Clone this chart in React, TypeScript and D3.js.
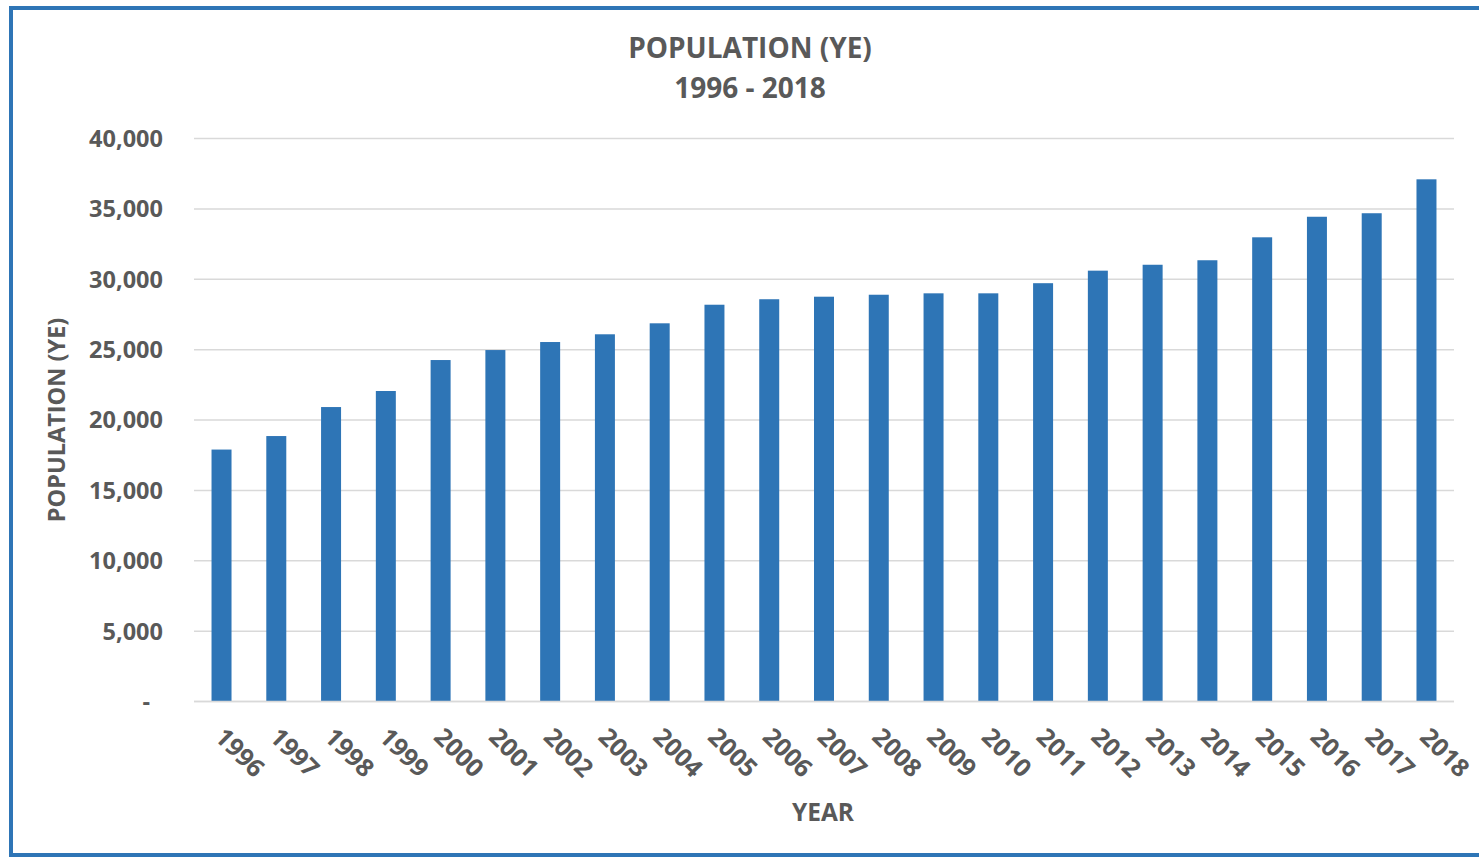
import React, { useEffect, useRef } from 'react';
import * as d3 from 'd3';

const years = [
  '1996', '1997', '1998', '1999', '2000', '2001', '2002', '2003', '2004', '2005', '2006', '2007',
  '2008', '2009', '2010', '2011', '2012', '2013', '2014', '2015', '2016', '2017', '2018',
];
const population = [
  17900, 18860, 20920, 22060, 24260, 24970, 25540, 26090, 26870, 28190, 28580, 28760,
  28900, 29000, 29000, 29720, 30610, 31030, 31350, 32980, 34440, 34690, 37100,
];
const yTicks = [0, 5000, 10000, 15000, 20000, 25000, 30000, 35000, 40000];
const titleLines = ['POPULATION (YE)', '1996 - 2018'];

const W = 1479;
const H = 857;
const FONT = '"Open Sans", sans-serif';
const GREY = '#595959';

const PopulationChart = () => {
  const ref = useRef<SVGSVGElement>(null);

  useEffect(() => {
    const svg = d3.select(ref.current);
    svg.selectAll('*').remove();

    const left = 194, right = 1454, top = 138.5, bottom = 701.5;

    const x = d3.scaleBand().domain(years).range([left, right]).paddingInner(0.635).paddingOuter(0.32);
    const y = d3.scaleLinear().domain([0, 40000]).range([bottom, top]);

    svg.append('rect')
      .attr('width', W).attr('height', H).attr('fill', '#fff');

    // outer frame
    svg.append('rect')
      .attr('x', 11).attr('y', 8)
      .attr('width', W + 20).attr('height', 847)
      .attr('fill', 'none')
      .attr('stroke', '#2E75B6')
      .attr('stroke-width', 4);

    // gridlines
    svg.append('g')
      .selectAll('line')
      .data(yTicks)
      .join('line')
      .attr('x1', left).attr('x2', right)
      .attr('y1', d => y(d)).attr('y2', d => y(d))
      .attr('stroke', '#D9D9D9')
      .attr('stroke-width', 1.5);

    // y labels
    const fmt = d3.format(',');
    svg.append('g')
      .selectAll('text')
      .data(yTicks)
      .join('text')
      .attr('x', d => (d === 0 ? 150 : 163))
      .attr('y', d => y(d))
      .attr('dy', '0.36em')
      .attr('text-anchor', 'end')
      .attr('font-family', FONT)
      .attr('font-weight', 'bold')
      .attr('font-size', 23.5)
      .attr('fill', GREY)
      .text(d => (d === 0 ? '-' : fmt(d)));

    // bars
    svg.append('g')
      .selectAll('rect')
      .data(years)
      .join('rect')
      .attr('x', d => x(d)!)
      .attr('width', x.bandwidth())
      .attr('y', (d, i) => y(population[i]))
      .attr('height', (d, i) => bottom - y(population[i]))
      .attr('fill', '#2E75B6');

    // baseline
    svg.append('line')
      .attr('x1', left).attr('x2', right)
      .attr('y1', bottom).attr('y2', bottom)
      .attr('stroke', '#D9D9D9')
      .attr('stroke-width', 1.5);

    // x labels rotated
    svg.append('g')
      .selectAll('text')
      .data(years)
      .join('text')
      .attr('transform', d => `translate(${x(d)! + x.bandwidth() / 2 - 8},${bottom + 37}) rotate(45)`)
      .attr('font-family', FONT)
      .attr('font-weight', 'bold')
      .attr('font-size', 25)
      .attr('fill', GREY)
      .text(d => d);

    // title
    svg.append('g')
      .selectAll('text')
      .data(titleLines)
      .join('text')
      .attr('x', 750)
      .attr('y', (d, i) => 58 + i * 40)
      .attr('text-anchor', 'middle')
      .attr('font-family', FONT)
      .attr('font-weight', 'bold')
      .attr('font-size', 28)
      .attr('fill', GREY)
      .text(d => d);

    // axis titles
    svg.append('text')
      .attr('transform', `translate(65,${(318 + 522) / 2}) rotate(-90)`)
      .attr('text-anchor', 'middle')
      .attr('font-family', FONT)
      .attr('font-weight', 'bold')
      .attr('font-size', 23.5)
      .attr('fill', GREY)
      .text('POPULATION (YE)');

    svg.append('text')
      .attr('x', 823).attr('y', 821)
      .attr('text-anchor', 'middle')
      .attr('font-family', FONT)
      .attr('font-weight', 'bold')
      .attr('font-size', 24.5)
      .attr('fill', GREY)
      .text('YEAR');
  }, []);

  return <svg ref={ref} width={W} height={H} style={{ position: 'absolute', left: 0, top: 0 }}></svg>;
};

export default function App() {
  return <PopulationChart />;
}
